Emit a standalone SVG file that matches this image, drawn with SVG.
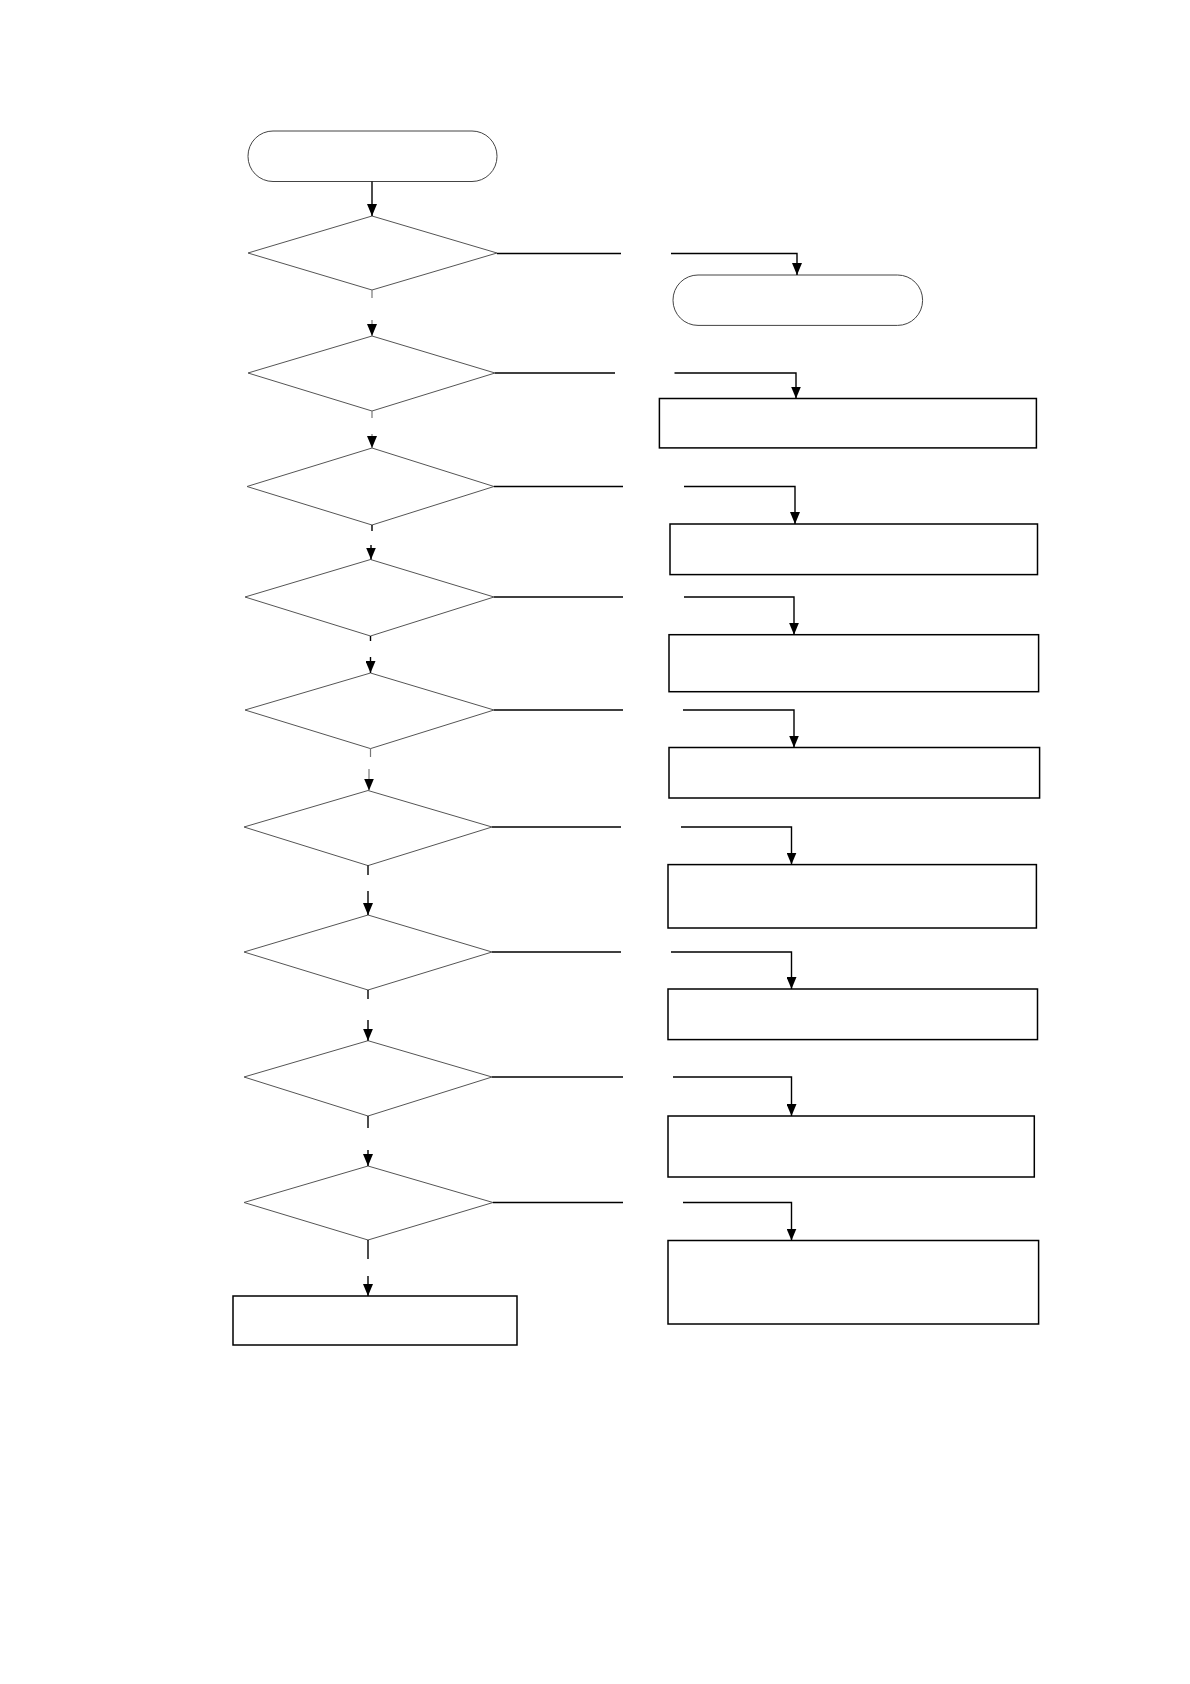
<svg xmlns="http://www.w3.org/2000/svg" width="1190" height="1684" viewBox="0 0 1190 1684">
<style>
.term{fill:#fff;stroke:#444;stroke-width:1}
.dia{fill:#fff;stroke:#555;stroke-width:1}
.box{fill:#fff;stroke:#000;stroke-width:1.5}
.con{fill:none;stroke:#000;stroke-width:1.4}
.stub{fill:none;stroke:#777;stroke-width:1.2}
</style>
<defs>
<marker id="arrD" markerUnits="userSpaceOnUse" markerWidth="10" markerHeight="12" refX="5" refY="12" orient="0" viewBox="0 0 10 12">
<path d="M0,0 L10,0 L5,12 Z" fill="#000"/>
</marker>
</defs>
<rect width="1190" height="1684" fill="#fff"/>

<g id="start"><rect class="term" x="248" y="131" width="249" height="50.5" rx="25" ry="25"/></g>
<g id="d1"><polygon class="dia" points="372,216 497,253 372,290 248,253"/></g>
<g id="d2"><polygon class="dia" points="372,336 495,373 372,411 248,373"/></g>
<g id="d3"><polygon class="dia" points="372,448 494,486.5 372,525 247,486.5"/></g>
<g id="d4"><polygon class="dia" points="370.5,559.5 494,597 370.5,636 245,597"/></g>
<g id="d5"><polygon class="dia" points="370.5,673 494,710 370.5,748.6 245,710"/></g>
<g id="d6"><polygon class="dia" points="368,790.5 492,827 368,865.6 244,827"/></g>
<g id="d7"><polygon class="dia" points="368,915 492,952 368,990 244,952"/></g>
<g id="d8"><polygon class="dia" points="368,1040.7 492,1077 368,1116 244,1077"/></g>
<g id="d9"><polygon class="dia" points="368,1166 493,1202.5 368,1240 244,1202.5"/></g>
<g id="end-left"><rect class="box" x="233" y="1296" width="284" height="49"/></g>

<g id="end-right"><rect class="term" x="673" y="275" width="249.6" height="50.4" rx="25" ry="25"/></g>
<g id="r2"><rect class="box" x="659.4" y="398.5" width="377" height="49.4"/></g>
<g id="r3"><rect class="box" x="670" y="524" width="367.5" height="50.6"/></g>
<g id="r4"><rect class="box" x="669" y="634.7" width="369.6" height="57"/></g>
<g id="r5"><rect class="box" x="669" y="747.5" width="370.6" height="50.5"/></g>
<g id="r6"><rect class="box" x="668" y="864.6" width="368.4" height="63.4"/></g>
<g id="r7"><rect class="box" x="668" y="989" width="369.5" height="50.6"/></g>
<g id="r8"><rect class="box" x="668" y="1116" width="366.3" height="61"/></g>
<g id="r9"><rect class="box" x="668" y="1240.5" width="370.6" height="83.5"/></g>

<g id="connectors">
<line class="con" x1="372" y1="181.5" x2="372" y2="216" marker-end="url(#arrD)"/>
<line class="stub" x1="372" y1="290" x2="372" y2="298"/>
<line class="stub" x1="372" y1="320" x2="372" y2="336" marker-end="url(#arrD)"/>
<line class="stub" x1="372" y1="411" x2="372" y2="418"/>
<line class="stub" x1="372" y1="434" x2="372" y2="448" marker-end="url(#arrD)"/>
<line class="con" x1="372" y1="525" x2="372" y2="531"/>
<line class="con" x1="371" y1="545" x2="371" y2="559.5" marker-end="url(#arrD)"/>
<line class="con" x1="370.5" y1="636" x2="370.5" y2="641"/>
<line class="con" x1="370.5" y1="657" x2="370.5" y2="673" marker-end="url(#arrD)"/>
<line class="stub" x1="370.5" y1="748.6" x2="370.5" y2="757"/>
<line class="stub" x1="369" y1="769" x2="369" y2="790.5" marker-end="url(#arrD)"/>
<line class="con" x1="368" y1="865.6" x2="368" y2="875"/>
<line class="con" x1="368" y1="891" x2="368" y2="915" marker-end="url(#arrD)"/>
<line class="con" x1="368" y1="990" x2="368" y2="999"/>
<line class="con" x1="368" y1="1020" x2="368" y2="1040.7" marker-end="url(#arrD)"/>
<line class="con" x1="368" y1="1116" x2="368" y2="1128"/>
<line class="con" x1="368" y1="1150" x2="368" y2="1166" marker-end="url(#arrD)"/>
<line class="con" x1="368" y1="1240" x2="368" y2="1259"/>
<line class="con" x1="368" y1="1276" x2="368" y2="1296" marker-end="url(#arrD)"/>

<line class="con" x1="497" y1="253.5" x2="621" y2="253.5"/>
<polyline class="con" points="671,253.5 797,253.5 797,275" marker-end="url(#arrD)"/>
<line class="con" x1="495" y1="373" x2="615" y2="373"/>
<polyline class="con" points="674.5,373 796,373 796,398.5" marker-end="url(#arrD)"/>
<line class="con" x1="494" y1="486.5" x2="623" y2="486.5"/>
<polyline class="con" points="684,486.5 795,486.5 795,524" marker-end="url(#arrD)"/>
<line class="con" x1="494" y1="597" x2="623" y2="597"/>
<polyline class="con" points="684,597 794,597 794,634.7" marker-end="url(#arrD)"/>
<line class="con" x1="494" y1="710" x2="623" y2="710"/>
<polyline class="con" points="683,710 794,710 794,747.5" marker-end="url(#arrD)"/>
<line class="con" x1="492" y1="827" x2="621" y2="827"/>
<polyline class="con" points="681,827 791.5,827 791.5,864.6" marker-end="url(#arrD)"/>
<line class="con" x1="492" y1="952" x2="621" y2="952"/>
<polyline class="con" points="671,952 791.5,952 791.5,989" marker-end="url(#arrD)"/>
<line class="con" x1="492" y1="1077" x2="623" y2="1077"/>
<polyline class="con" points="673,1077 791.5,1077 791.5,1116" marker-end="url(#arrD)"/>
<line class="con" x1="493" y1="1202.5" x2="623" y2="1202.5"/>
<polyline class="con" points="683,1202.5 791.5,1202.5 791.5,1240.5" marker-end="url(#arrD)"/>
</g>
</svg>
